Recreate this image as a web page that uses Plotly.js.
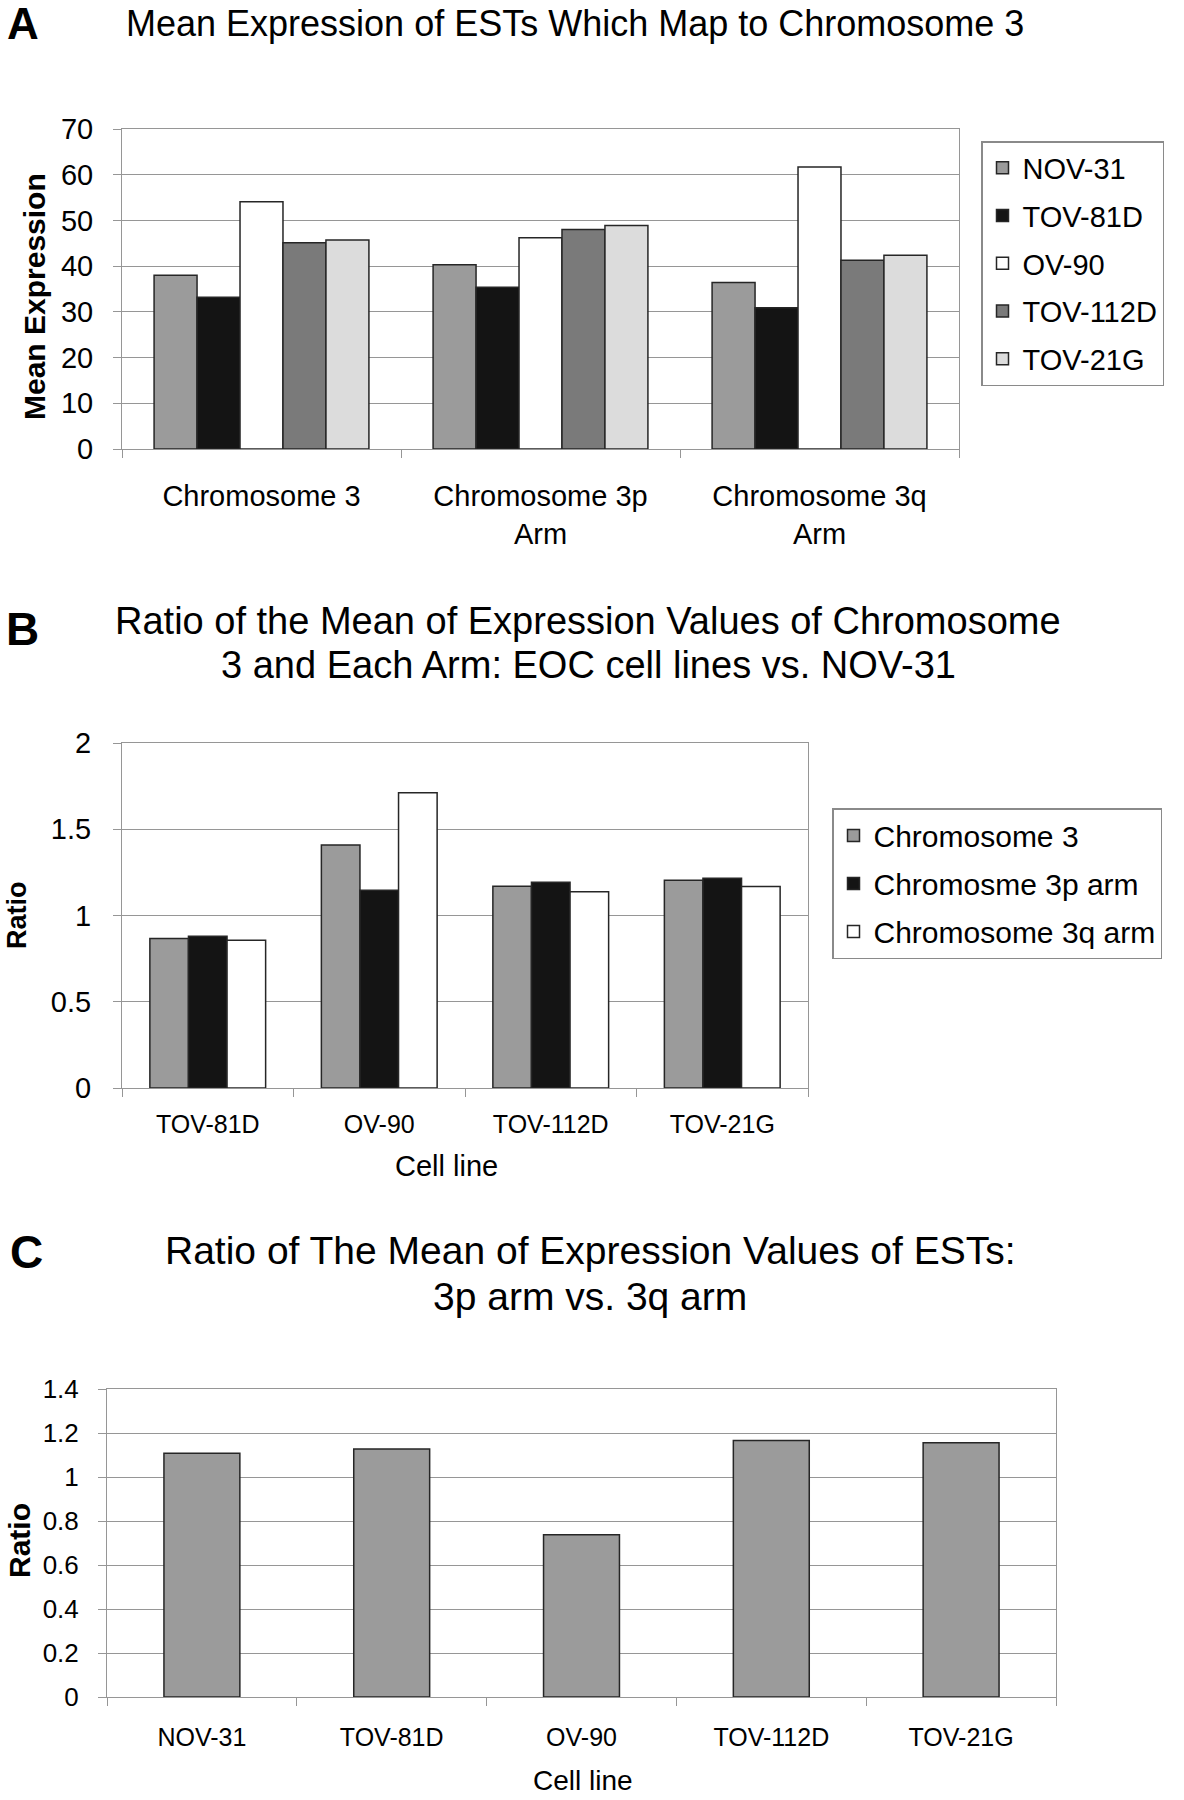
<!DOCTYPE html>
<html>
<head>
<meta charset="utf-8">
<script src="https://cdn.plot.ly/plotly-3.0.1.min.js"></script>
<style>
  html, body { margin: 0; padding: 0; background: #fff; }
  #fig { width: 1184px; height: 1800px; }
</style>
</head>
<body>
<div id="fig"></div>
<script>
// ---- Panel A: mean expression of ESTs mapping to chromosome 3 ----
const armCategories = ["Chromosome 3", "Chromosome 3p<br>Arm", "Chromosome 3q<br>Arm"];
const cellLines = ["NOV-31", "TOV-81D", "OV-90", "TOV-112D", "TOV-21G"];
const meanNOV31   = [38.0, 40.3, 36.4];
const meanTOV81D  = [33.2, 35.4, 30.9];
const meanOV90    = [54.1, 46.2, 61.7];
const meanTOV112D = [45.1, 48.0, 41.3];
const meanTOV21G  = [45.7, 48.9, 42.4];

// ---- Panel B: ratio of chromosome / arm means, EOC lines vs. NOV-31 ----
const eocLines = ["TOV-81D", "OV-90", "TOV-112D", "TOV-21G"];
const ratioSeriesNames = ["Chromosome 3", "Chromosme 3p arm", "Chromosome 3q arm"];
const ratioChr3  = [0.867, 1.408, 1.170, 1.204];
const ratioArm3p = [0.880, 1.146, 1.193, 1.216];
const ratioArm3q = [0.857, 1.711, 1.137, 1.168];

// ---- Panel C: 3p arm vs. 3q arm ----
const pqLines = ["NOV-31", "TOV-81D", "OV-90", "TOV-112D", "TOV-21G"];
const ratioPQ = [1.108, 1.127, 0.738, 1.166, 1.156];

const W = 1184, H = 1800;
const px = x => x / W;
const py = y => 1 - y / H;

const FONT = "Liberation Sans, Arial, Helvetica, sans-serif";
const EDGE = { color: "#262626", width: 1.5 };
const GRID = "#969696";

const colorsA = ["#9b9b9b", "#141414", "#ffffff", "#7a7a7a", "#dcdcdc"];
const colorsB = ["#9b9b9b", "#141414", "#ffffff"];

const traces = [];

// grouped bars laid out with explicit offsets inside each category slot
function groupBars(x, seriesList, names, colors, slotWidth, xa, ya, legendId) {
  const n = seriesList.length;
  const w = slotWidth / n;
  seriesList.forEach((vals, i) => {
    traces.push({
      type: "bar", x: x, y: vals, name: names[i],
      xaxis: xa, yaxis: ya,
      width: w, offset: -slotWidth / 2 + i * w,
      marker: { color: colors[i], line: EDGE },
      legend: legendId, legendgroup: legendId + names[i],
      hoverinfo: "x+y+name"
    });
  });
}

groupBars(armCategories,
  [meanNOV31, meanTOV81D, meanOV90, meanTOV112D, meanTOV21G],
  cellLines, colorsA, 0.77, "x", "y", "legend");

groupBars(eocLines, [ratioChr3, ratioArm3p, ratioArm3q],
  ratioSeriesNames, colorsB, 0.675, "x2", "y2", "legend2");

traces.push({
  type: "bar", x: pqLines, y: ratioPQ, xaxis: "x3", yaxis: "y3",
  width: 0.4, offset: -0.2, showlegend: false,
  marker: { color: colorsA[0], line: EDGE }
});

function xAxis(domain, anchor, size, standoff) {
  return {
    domain: domain, anchor: anchor, type: "category",
    showline: true, mirror: true, linecolor: GRID, linewidth: 1,
    ticks: "outside", tickson: "boundaries", ticklen: 8, tickcolor: GRID,
    ticklabelstandoff: standoff,
    showgrid: false, zeroline: false, fixedrange: true,
    tickfont: { family: FONT, size: size, color: "#000" }
  };
}
function yAxis(domain, anchor, range, dtick, size, standoff) {
  return {
    domain: domain, anchor: anchor, range: range, dtick: dtick,
    showline: true, mirror: true, linecolor: GRID, linewidth: 1,
    ticks: "outside", ticklen: 8, tickcolor: GRID,
    ticklabelstandoff: standoff,
    showgrid: true, gridcolor: GRID, gridwidth: 1,
    zeroline: false, fixedrange: true,
    tickfont: { family: FONT, size: size, color: "#000" }
  };
}

function note(text, x, y, size, opts) {
  return Object.assign({
    text: text, x: px(x), y: py(y), xref: "paper", yref: "paper",
    showarrow: false, xanchor: "center", yanchor: "middle",
    font: { family: FONT, size: size, color: "#000" }
  }, opts || {});
}
function boldNote(text, x, y, size, opts) {
  const a = note(text, x, y, size, opts);
  a.font.weight = "bold";
  return a;
}

const layout = {
  width: W, height: H,
  margin: { l: 0, r: 0, t: 0, b: 0 },
  paper_bgcolor: "#fff", plot_bgcolor: "#fff",
  barmode: "overlay",
  font: { family: FONT, color: "#000" },

  xaxis:  xAxis([px(122), px(959)], "y", 29, 21),
  yaxis:  yAxis([py(449), py(129)], "x", [0, 70], 10, 29, 14),
  xaxis2: xAxis([px(122), px(808)], "y2", 25, 14),
  yaxis2: yAxis([py(1088), py(743)], "x2", [0, 2], 0.5, 29, 16),
  xaxis3: xAxis([px(107), px(1056)], "y3", 25, 18),
  yaxis3: yAxis([py(1697), py(1389)], "x3", [0, 1.4], 0.2, 26, 14),

  legend: {
    x: px(981), y: py(141), xanchor: "left", yanchor: "top",
    bordercolor: "#8a8a8a", borderwidth: 1.5, bgcolor: "#fff",
    font: { family: FONT, size: 29, color: "#000" },
    tracegroupgap: 7, itemclick: false, itemdoubleclick: false
  },
  legend2: {
    x: px(832), y: py(808), xanchor: "left", yanchor: "top",
    bordercolor: "#8a8a8a", borderwidth: 1.5, bgcolor: "#fff",
    font: { family: FONT, size: 30, color: "#000" },
    tracegroupgap: 6, itemclick: false, itemdoubleclick: false
  },

  annotations: [
    boldNote("A", 23, 24, 44),
    note("Mean Expression of ESTs Which Map to Chromosome 3", 575, 24, 36),
    boldNote("Mean Expression", 34, 297, 30, { textangle: -90 }),

    boldNote("B", 22, 629, 46),
    note("Ratio of the Mean of Expression Values of Chromosome", 588, 621, 38),
    note("3 and Each Arm: EOC cell lines vs. NOV-31", 588, 665, 38),
    boldNote("Ratio", 17, 915, 27, { textangle: -90 }),
    note("Cell line", 446, 1166, 29),

    boldNote("C", 26, 1252, 46),
    note("Ratio of The Mean of Expression Values of ESTs:", 590, 1250, 39),
    note("3p arm vs. 3q arm", 590, 1296, 39),
    boldNote("Ratio", 19, 1541, 30, { textangle: -90 }),
    note("Cell line", 583, 1780, 28)
  ]
};

Plotly.newPlot("fig", traces, layout, { displayModeBar: false, staticPlot: true });
</script>
</body>
</html>
